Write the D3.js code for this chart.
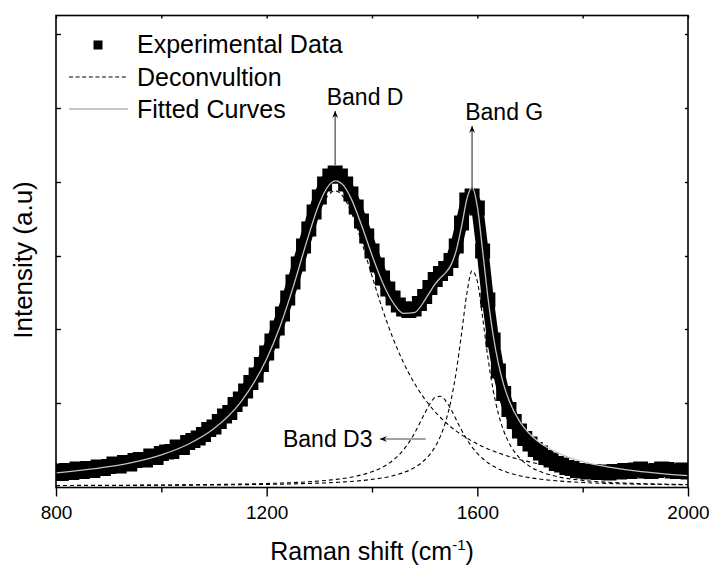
<!DOCTYPE html>
<html>
<head>
<meta charset="utf-8">
<script src="https://cdn.jsdelivr.net/npm/d3@7"></script>
<style>
  html, body { margin: 0; padding: 0; background: #fff; }
  svg { display: block; font-family: "Liberation Sans", Arial, sans-serif; }
</style>
</head>
<body>
<div id="chart"></div>
<script>
// Raman shift grid for the fitted curve and the deconvoluted bands (cm-1)
const fitShift = [800, 850, 900, 950, 1000, 1050, 1100, 1150, 1200, 1225, 1250, 1275, 1300, 1315, 1330, 1345, 1360, 1380, 1400, 1420,
  1440, 1460, 1480, 1500, 1510, 1520, 1530, 1540, 1550, 1560, 1570, 1580, 1590, 1600, 1610, 1620, 1630, 1640, 1650, 1660,
  1680, 1700, 1725, 1750, 1800, 1850, 1900, 1950, 2000];

// Intensities (a.u.)
const fitCurve = [131, 158, 193, 242, 312, 415, 574, 834, 1272, 1591, 1984, 2426, 2825, 2985, 3051, 3011, 2879, 2610, 2308, 2036,
  1835, 1727, 1734, 1856, 1941, 2021, 2081, 2134, 2211, 2356, 2593, 2867, 2989, 2793, 2356, 1891, 1510, 1224, 1014, 858,
  649, 518, 410, 337, 244, 188, 151, 124, 104];
const bandD = [122, 147, 181, 228, 295, 394, 549, 802, 1231, 1544, 1929, 2360, 2746, 2896, 2950, 2896, 2746, 2445, 2100, 1767,
  1475, 1231, 1032, 871, 802, 741, 685, 635, 590, 549, 512, 479, 448, 420, 394, 371, 350, 330, 312, 295,
  265, 240, 212, 189, 153, 126, 106, 90, 77];
const bandD3 = [5, 6, 7, 8, 10, 12, 15, 19, 25, 29, 34, 41, 50, 57, 65, 75, 88, 111, 142, 188,
  257, 362, 520, 725, 822, 886, 897, 852, 766, 662, 559, 467, 389, 326, 275, 233, 200, 172, 150, 131,
  103, 83, 65, 52, 35, 25, 19, 15, 12];
const bandG = [4, 5, 5, 6, 7, 9, 10, 13, 16, 18, 21, 25, 29, 32, 36, 40, 45, 54, 66, 81,
  103, 134, 182, 260, 317, 394, 499, 647, 855, 1145, 1522, 1921, 2152, 2047, 1687, 1287, 960, 722, 552, 432,
  281, 195, 133, 96, 56, 37, 26, 19, 15];

// Experimental spectrum
const expShift = [800, 810, 820, 830, 840, 850, 860, 870, 880, 890, 900, 910, 920, 930, 940, 950, 960, 970, 980, 990,
  1000, 1010, 1020, 1030, 1040, 1050, 1060, 1070, 1080, 1090, 1100, 1110, 1120, 1130, 1140, 1150, 1160, 1170, 1180, 1190,
  1200, 1210, 1220, 1230, 1240, 1250, 1260, 1270, 1280, 1290, 1300, 1310, 1320, 1330, 1340, 1350, 1360, 1370, 1380, 1390,
  1400, 1410, 1420, 1430, 1440, 1450, 1460, 1470, 1480, 1490, 1500, 1510, 1520, 1530, 1540, 1550, 1560, 1570, 1580, 1590,
  1600, 1610, 1620, 1630, 1640, 1650, 1660, 1670, 1680, 1690, 1700, 1710, 1720, 1730, 1740, 1750, 1760, 1770, 1780, 1790,
  1800, 1810, 1820, 1830, 1840, 1850, 1860, 1870, 1880, 1890, 1900, 1910, 1920, 1930, 1940, 1950, 1960, 1970, 1980, 1990,
  2000];
const expIntensity = [150, 125, 155, 135, 170, 145, 175, 155, 190, 175, 195, 220, 200, 235, 220, 255, 265, 260, 300, 285,
  325, 340, 345, 390, 385, 435, 455, 480, 515, 565, 590, 645, 700, 735, 815, 870, 950, 1035, 1110, 1215,
  1330, 1450, 1580, 1720, 1880, 2040, 2220, 2400, 2570, 2740, 2890, 3020, 3100, 3130, 3100, 3020, 2920, 2790, 2650, 2500,
  2350, 2210, 2080, 1970, 1880, 1810, 1770, 1755, 1770, 1825, 1895, 1985, 2065, 2125, 2175, 2255, 2400, 2630, 2860, 2900,
  2780, 2350, 1860, 1460, 1150, 925, 765, 645, 550, 475, 420, 365, 330, 285, 260, 225, 210, 185, 175, 155,
  150, 140, 145, 135, 140, 130, 145, 140, 155, 145, 160, 170, 150, 145, 155, 170, 165, 150, 145, 160,
  140];

const xTicksMajor = [800, 1200, 1600, 2000];
const xTicksMinor = [1000, 1400, 1800];
const xTicksTop = [800, 1000, 1200, 1400, 1600, 1800, 2000];
const yTicks = [90, 830, 1570, 2300, 3040, 3780, 4520];
const legendLabels = ["Experimental Data", "Deconvultion", "Fitted Curves"];

// Peak annotations: arrow from (x1,y1) to (x2,y2), label anchored at (lx,ly)
const bandNotes = [
  { label: "Band D", x1: 1330, y1: 3210, x2: 1330, y2: 3750, lx: 1314, ly: 3810 },
  { label: "Band G", x1: 1590, y1: 2960, x2: 1590, y2: 3600, lx: 1577, ly: 3660 },
  { label: "Band D3", x1: 1502, y1: 470, x2: 1415, y2: 470, lx: 1231, ly: 390 }
];

const width = 712, height = 568;
const margin = { left: 56, right: 24, top: 15.5, bottom: 80.5 };
const innerWidth = width - margin.left - margin.right;
const innerHeight = height - margin.top - margin.bottom;

const svg = d3.select("#chart").append("svg")
  .attr("width", width)
  .attr("height", height);

const inner = svg.append("g")
  .attr("transform", `translate(${margin.left},${margin.top})`);

const xScale = d3.scaleLinear().domain([800, 2000]).range([0, innerWidth]);
const yScale = d3.scaleLinear().domain([-15, 4705]).range([innerHeight, 0]);

svg.append("defs").append("clipPath").attr("id", "plot-clip")
  .append("rect").attr("width", innerWidth).attr("height", innerHeight);

const plot = inner.append("g").attr("clip-path", "url(#plot-clip)");

const curveLine = d3.line()
  .x(d => xScale(d[0]))
  .y(d => yScale(d[1]))
  .curve(d3.curveMonotoneX);

// Deconvoluted bands (dashed)
[bandD, bandD3, bandG].forEach(band => {
  plot.append("path")
    .datum(fitShift.map((s, i) => [s, band[i]]))
    .attr("d", curveLine)
    .attr("fill", "none")
    .attr("stroke", "#000")
    .attr("stroke-width", 1.1)
    .attr("stroke-dasharray", "4,3");
});

// Experimental data: dense square markers
const expData = expShift.map((s, i) => [s, expIntensity[i]]);
plot.append("path")
  .datum(expData)
  .attr("d", d3.line().x(d => xScale(d[0])).y(d => yScale(d[1])))
  .attr("fill", "none")
  .attr("stroke", "#000")
  .attr("stroke-width", 12)
  .attr("stroke-linejoin", "bevel");

const sq = 15;
plot.selectAll(".exp-point")
  .data(expData)
  .enter()
  .append("rect")
  .attr("class", "exp-point")
  .attr("x", d => xScale(d[0]) - sq / 2)
  .attr("y", d => yScale(d[1]) - sq / 2)
  .attr("width", sq)
  .attr("height", sq)
  .attr("fill", "#000");

// Fitted curve
plot.append("path")
  .datum(fitShift.map((s, i) => [s, fitCurve[i]]))
  .attr("d", curveLine)
  .attr("fill", "none")
  .attr("stroke", "#c4c4c4")
  .attr("stroke-width", 1.3);

// Axes
const bottomMajor = inner.append("g")
  .attr("transform", `translate(0,${innerHeight})`)
  .call(d3.axisBottom(xScale).tickValues(xTicksMajor).tickSizeInner(9).tickSizeOuter(0).tickPadding(9).tickFormat(d3.format("d")));
inner.append("g")
  .attr("transform", `translate(0,${innerHeight})`)
  .call(d3.axisBottom(xScale).tickValues(xTicksMinor).tickSizeInner(5).tickSizeOuter(0).tickFormat(""));
inner.append("g")
  .call(d3.axisTop(xScale).tickValues(xTicksTop).tickSizeInner(-3).tickSizeOuter(0).tickFormat(""));
inner.append("g")
  .call(d3.axisLeft(yScale).tickValues(yTicks).tickSizeInner(-5).tickSizeOuter(0).tickFormat(""));
inner.append("g")
  .attr("transform", `translate(${innerWidth},0)`)
  .call(d3.axisRight(yScale).tickValues(yTicks).tickSizeInner(-3).tickSizeOuter(0).tickFormat(""));

inner.selectAll(".domain").remove();
inner.selectAll(".tick line").attr("stroke", "#000").attr("stroke-width", 1.4);
bottomMajor.selectAll("text")
  .attr("font-size", "19px")
  .attr("fill", "#000")
  .attr("font-family", "'Liberation Sans', Arial, sans-serif");

inner.append("rect")
  .attr("width", innerWidth)
  .attr("height", innerHeight)
  .attr("fill", "none")
  .attr("stroke", "#000")
  .attr("stroke-width", 1.6);

// Axis labels
const xLabel = inner.append("text")
  .attr("x", innerWidth / 2)
  .attr("y", innerHeight + 72)
  .attr("text-anchor", "middle")
  .attr("font-size", "25px")
  .attr("fill", "#000");
xLabel.append("tspan").text("Raman shift (cm");
xLabel.append("tspan").attr("font-size", "15px").attr("dy", "-10").text("-1");
xLabel.append("tspan").attr("dy", "10").text(")");

svg.append("text")
  .attr("transform", "translate(32,260) rotate(-90)")
  .attr("text-anchor", "middle")
  .attr("font-size", "26px")
  .attr("fill", "#000")
  .text("Intensity (a.u)");

// Band annotations
function arrow(g, x1, y1, x2, y2) {
  g.append("line")
    .attr("x1", x1).attr("y1", y1).attr("x2", x2).attr("y2", y2)
    .attr("stroke", "#444").attr("stroke-width", 1.2);
  const a = Math.atan2(y2 - y1, x2 - x1);
  const len = 7, half = 3;
  const bx = x2 - len * Math.cos(a), by = y2 - len * Math.sin(a);
  const px = -Math.sin(a) * half, py = Math.cos(a) * half;
  g.append("path")
    .attr("d", `M${x2},${y2}L${bx + px},${by + py}L${x2 - 4.5 * Math.cos(a)},${y2 - 4.5 * Math.sin(a)}L${bx - px},${by - py}Z`)
    .attr("fill", "#000");
}

bandNotes.forEach(n => {
  arrow(inner, xScale(n.x1), yScale(n.y1), xScale(n.x2), yScale(n.y2));
  inner.append("text")
    .attr("x", xScale(n.lx))
    .attr("y", yScale(n.ly))
    .attr("font-size", "23px")
    .attr("fill", "#000")
    .text(n.label);
});

// Legend
const legend = svg.append("g");
const rowY = [45, 77, 109];
const textY = [53, 86, 118];
legend.append("rect")
  .attr("x", 98 - 4.5).attr("y", rowY[0] - 4.5)
  .attr("width", 9).attr("height", 9)
  .attr("fill", "#000");
legend.append("line")
  .attr("x1", 69).attr("x2", 128).attr("y1", rowY[1]).attr("y2", rowY[1])
  .attr("stroke", "#000").attr("stroke-width", 1.1).attr("stroke-dasharray", "4,2.6");
legend.append("line")
  .attr("x1", 69).attr("x2", 128).attr("y1", rowY[2]).attr("y2", rowY[2])
  .attr("stroke", "#b4b4b4").attr("stroke-width", 1.3);
legend.selectAll(".legend-label")
  .data(legendLabels)
  .enter()
  .append("text")
  .attr("class", "legend-label")
  .attr("x", 137)
  .attr("y", (d, i) => textY[i])
  .attr("font-size", "25px")
  .attr("fill", "#000")
  .text(d => d);
</script>
</body>
</html>
